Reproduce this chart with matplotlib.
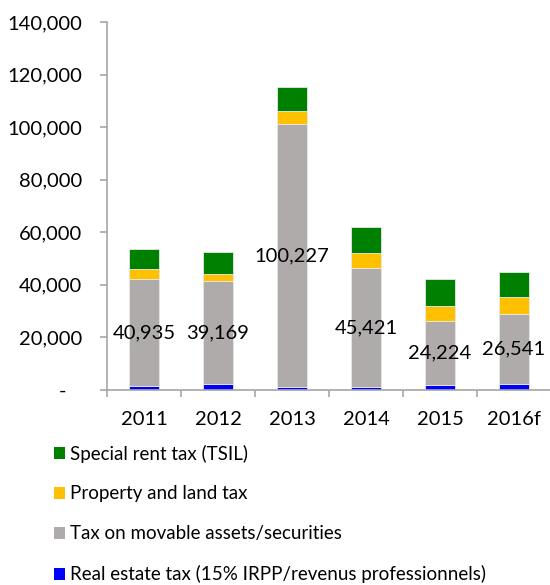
import matplotlib
matplotlib.use("Agg")
import numpy as np
import matplotlib.pyplot as plt
from matplotlib.patches import Patch
from matplotlib.ticker import FuncFormatter

plt.rcParams['font.family'] = ['Lato', 'DejaVu Sans']

years = ['2011', '2012', '2013', '2014', '2015', '2016f']
real_estate = [1400, 2300, 1100, 1100, 1900, 2300]      # blue
movable = [40935, 39169, 100227, 45421, 24224, 26541]   # grey, labelled
property_land = [3700, 2700, 4800, 5500, 6000, 6400]    # yellow
special_rent = [7500, 8400, 9200, 9800, 10100, 9800]    # green

series_names = ['Real estate tax (15% IRPP/revenus professionnels)',
                'Tax on movable assets/securities',
                'Property and land tax',
                'Special rent tax (TSIL)']
colors = ['#0000FF', '#AFABAB', '#FFC000', '#008000']

fig = plt.figure(figsize=(5.5, 5.85), dpi=100)
ax = fig.add_axes([107/550, 1 - 390/585, 444/550, 368/585])

x = np.arange(len(years))
bottom = np.zeros(len(years))
for vals, c in zip([real_estate, movable, property_land, special_rent], colors):
    ax.bar(x, vals, width=0.4, bottom=bottom, color=c, edgecolor='#E8E8E8', linewidth=0.6)
    bottom = bottom + np.array(vals)

# labels in the middle of the grey segment
for i, v in enumerate(movable):
    ax.text(x[i], real_estate[i] + v / 2, f"{v:,}", ha='center', va='center', fontsize=14.5)

ax.set_xlim(-0.5, len(years) - 0.5)
ax.set_ylim(0, 140000)
ax.set_yticks(np.arange(0, 140001, 20000))
ax.yaxis.set_major_formatter(FuncFormatter(lambda v, p: "-   " if v == 0 else f"{int(v):,}"))
ax.set_xticks(x)
ax.set_xticklabels(years)
ax.set_xticks(np.arange(-0.5, len(years)), minor=True)

for s in ['top', 'right']:
    ax.spines[s].set_visible(False)
for s in ['left', 'bottom']:
    ax.spines[s].set_color('#A6A6A6')
    ax.spines[s].set_linewidth(1.2)

ax.tick_params(axis='y', length=5, width=1.2, color='#A6A6A6', labelsize=14.5, pad=13)
ax.tick_params(axis='x', which='major', length=0, labelsize=14.5, pad=15)
ax.tick_params(axis='x', which='minor', length=5, width=1.2, color='#A6A6A6')

handles = [Patch(facecolor=c) for c in colors[::-1]]
fig.legend(handles, series_names[::-1], loc='upper left', bbox_to_anchor=(46/550, 1 - 437/585),
           frameon=False, fontsize=13.5, handlelength=0.6, handleheight=0.6,
           handletextpad=0.3, labelspacing=1.22, borderaxespad=0)

plt.savefig('out.png', dpi=100)
